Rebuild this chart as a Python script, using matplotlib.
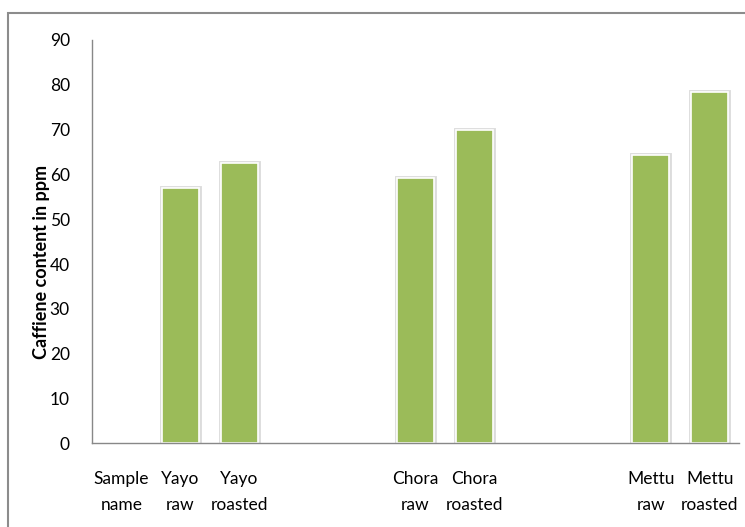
import matplotlib
matplotlib.use('Agg')
import matplotlib.pyplot as plt
import matplotlib.patheffects as pe
from matplotlib.patches import Rectangle

plt.rcParams['font.family'] = ['Lato', 'DejaVu Sans']

# sample labels (blank slots keep the gaps between origins)
labels = ['Sample\nname', 'Yayo\nraw', 'Yayo\nroasted', '', '',
          'Chora\nraw', 'Chora\nroasted', '', '',
          'Mettu\nraw', 'Mettu\nroasted']
caffeine = [0, 57.0, 62.5, 0, 0, 59.1, 69.9, 0, 0, 64.3, 78.5]
yticks = [0, 10, 20, 30, 40, 50, 60, 70, 80, 90]

fig = plt.figure(figsize=(7.45, 5.27), dpi=100)
ax = fig.add_axes([0.1235, 0.1588, 0.8685, 0.7653])

x = range(len(labels))
bars = ax.bar(x, caffeine, width=0.63, color='#9BBB59', edgecolor='white',
              linewidth=1.2)
for b, v in zip(bars, caffeine):
    if v == 0:
        b.set_visible(False)
    b.set_path_effects([pe.Stroke(linewidth=3.5, foreground='#dcdcdc'),
                        pe.Normal()])

ax.set_xlim(-0.5, len(labels) - 0.5)
ax.set_ylim(0, 90)
ax.set_yticks(yticks)
ax.set_xticks(list(x))
ax.set_xticklabels(labels, fontsize=12.5, linespacing=1.75)
ax.tick_params(axis='y', length=0, pad=16, labelsize=12.5)
ax.tick_params(axis='x', length=0, pad=20)

for s in ['top', 'right']:
    ax.spines[s].set_visible(False)
for s in ['left', 'bottom']:
    ax.spines[s].set_color('#888888')
    ax.spines[s].set_linewidth(1)

ax.set_ylabel('Caffiene content in ppm', fontsize=13, fontweight='bold')
ax.yaxis.set_label_coords(-0.065, 0.45)

# chart frame
fig.patches.append(Rectangle((8 / 745, -0.05), 1.0, 1 - 13 / 527 + 0.05,
                             transform=fig.transFigure, fill=False,
                             edgecolor='#8c8c8c', linewidth=1.5))

fig.savefig('out.png', dpi=100)
